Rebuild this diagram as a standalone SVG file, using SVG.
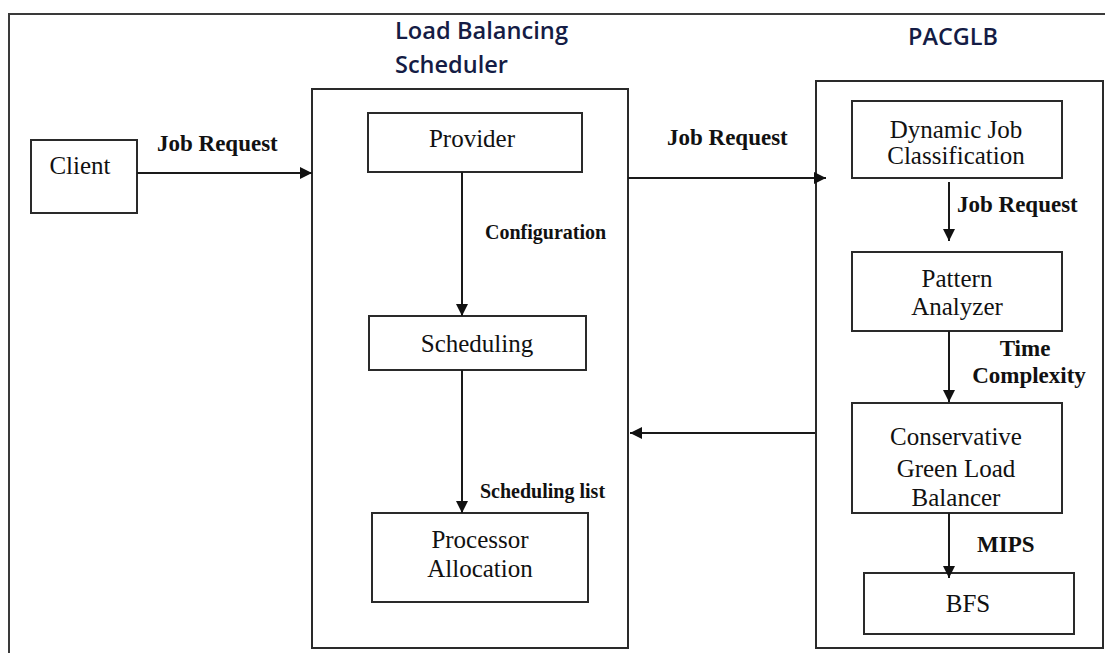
<svg xmlns="http://www.w3.org/2000/svg" width="1105" height="653" viewBox="0 0 1105 653">
<style>
.box{fill:#fff;stroke:#2a2a2a;stroke-width:2}
.frame{fill:none;stroke:#3a3a3a;stroke-width:2}
.t{font-family:"Liberation Serif","Times New Roman",serif;font-size:25px;fill:#111;text-anchor:middle}
.lb{font-family:"Liberation Serif","Times New Roman",serif;font-weight:bold;font-size:23px;fill:#111}
.lbs{font-family:"Liberation Serif","Times New Roman",serif;font-weight:bold;font-size:20px;fill:#111}
.title{font-family:"Open Sans","Liberation Sans",sans-serif;font-size:24px;font-weight:600;fill:#141c45}
.edge{fill:none;stroke:#1a1a1a;stroke-width:2}
</style>
<defs>
<marker id="arr" markerUnits="userSpaceOnUse" markerWidth="12" markerHeight="12" refX="12" refY="6" orient="auto">
<path d="M0,0 L12,6 L0,12 z" fill="#111"/>
</marker>
</defs>
<rect class="frame" x="9" y="14" width="1110" height="660"/>
<g id="title-lbs">
<text class="title" x="395" y="39" textLength="173" lengthAdjust="spacingAndGlyphs">Load Balancing</text>
<text class="title" x="395" y="73" textLength="113" lengthAdjust="spacingAndGlyphs">Scheduler</text>
</g>
<g id="title-pacglb">
<text class="title" x="908" y="45" font-size="21" textLength="90" lengthAdjust="spacingAndGlyphs">PACGLB</text>
</g>
<g id="lbs-container"><rect class="box" x="312" y="89" width="316" height="559"/></g>
<g id="pacglb-container"><rect class="box" x="816" y="81" width="287" height="567"/></g>
<g id="client"><rect class="box" x="31" y="140" width="106" height="73"/><text class="t" x="80" y="174">Client</text></g>
<g id="provider"><rect class="box" x="368" y="113" width="214" height="59"/><text class="t" x="472" y="147">Provider</text></g>
<g id="scheduling"><rect class="box" x="369" y="316" width="217" height="54"/><text class="t" x="477" y="352">Scheduling</text></g>
<g id="processor"><rect class="box" x="372" y="513" width="216" height="89"/><text class="t" x="480" y="548">Processor</text><text class="t" x="480" y="577">Allocation</text></g>
<g id="djc"><rect class="box" x="852" y="101" width="210" height="77"/><text class="t" x="956" y="138">Dynamic Job</text><text class="t" x="956" y="164">Classification</text></g>
<g id="pattern"><rect class="box" x="852" y="252" width="210" height="79"/><text class="t" x="957" y="287">Pattern</text><text class="t" x="957" y="315">Analyzer</text></g>
<g id="cglb"><rect class="box" x="852" y="403" width="210" height="110"/><text class="t" x="956" y="445">Conservative</text><text class="t" x="956" y="477">Green Load</text><text class="t" x="956" y="506">Balancer</text></g>
<g id="bfs"><rect class="box" x="864" y="573" width="210" height="61"/><text class="t" x="968" y="612">BFS</text></g>
<g id="connectors">
<line class="edge" x1="137" y1="173" x2="312" y2="173" marker-end="url(#arr)"/>
<line class="edge" x1="462" y1="172" x2="462" y2="316" marker-end="url(#arr)"/>
<line class="edge" x1="462" y1="370" x2="462" y2="513" marker-end="url(#arr)"/>
<line class="edge" x1="628" y1="178" x2="826" y2="178" marker-end="url(#arr)"/>
<line class="edge" x1="949" y1="182" x2="949" y2="241" marker-end="url(#arr)"/>
<line class="edge" x1="949" y1="331" x2="949" y2="402" marker-end="url(#arr)"/>
<line class="edge" x1="815" y1="433" x2="630" y2="433" marker-end="url(#arr)"/>
<line class="edge" x1="949" y1="513" x2="949" y2="578" marker-end="url(#arr)"/>
<text class="lb" x="157" y="151">Job Request</text>
<text class="lbs" x="485" y="239">Configuration</text>
<text class="lbs" x="480" y="498">Scheduling list</text>
<text class="lb" x="667" y="145">Job Request</text>
<text class="lb" x="957" y="212">Job Request</text>
<text class="lb" x="1025" y="356" text-anchor="middle">Time</text>
<text class="lb" x="1029" y="383" text-anchor="middle">Complexity</text>
<text class="lb" x="977" y="552" font-size="25">MIPS</text>
</g>
</svg>
